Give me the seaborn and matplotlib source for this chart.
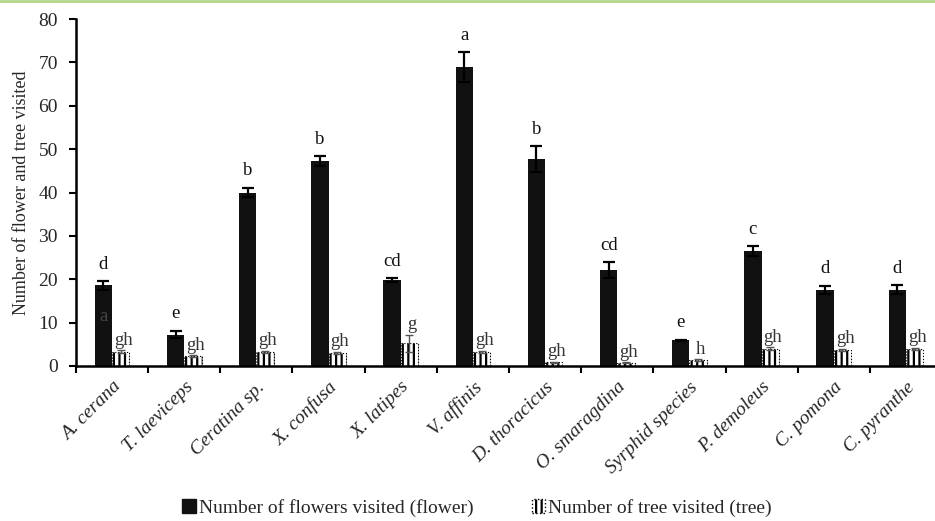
import numpy as np
import pandas as pd
import seaborn as sns
import matplotlib as mpl
mpl.use('Agg')
import matplotlib.pyplot as plt
from matplotlib.lines import Line2D
from matplotlib.patches import Patch


species = ["A. cerana", "T. laeviceps", "Ceratina sp.", "X. confusa", "X. latipes",
           "V. affinis", "D. thoracicus", "O. smaragdina", "Syrphid species",
           "P. demoleus", "C. pomona", "C. pyranthe"]
flower_mean = [18.6, 7.25, 40.0, 47.3, 19.8, 68.9, 47.7, 22.1, 5.9, 26.5, 17.6, 17.6]
flower_err = [1.0, 0.9, 1.1, 1.1, 0.5, 3.4, 3.0, 1.9, 0.2, 1.2, 0.9, 1.0]
tree_mean = [3.3, 2.3, 3.2, 3.0, 5.2, 3.3, 0.9, 0.8, 1.3, 4.0, 3.7, 3.9]
tree_err = [0.3, 0.2, 0.3, 0.3, 2.0, 0.2, 0.1, 0.1, 0.2, 0.3, 0.3, 0.3]
flower_letters = ["d", "e", "b", "b", "cd", "a", "b", "cd", "e", "c", "d", "d"]
tree_letters = ["gh", "gh", "gh", "gh", "g", "gh", "gh", "gh", "h", "gh", "gh", "gh"]
series = ["Number of flowers visited (flower)", "Number of tree visited (tree)"]


def draw():
    sns.set_theme(style="ticks")
    plt.rcParams['font.family'] = ['Liberation Serif', 'DejaVu Serif']
    plt.rcParams['hatch.linewidth'] = 1.6

    df = pd.DataFrame({
        "species": species * 2,
        "value": flower_mean + tree_mean,
        "series": [series[0]] * len(species) + [series[1]] * len(species),
    })

    fig = plt.figure(figsize=(9.35, 5.21), dpi=100)
    ax = fig.add_axes([76 / 935, 1 - 366 / 521, 866 / 935, 347 / 521])
    sns.barplot(data=df, x="species", y="value", hue="series", order=species,
                hue_order=series, palette=["#111111", "white"], width=0.48,
                errorbar=None, legend=False, ax=ax, saturation=1)

    n = len(species)
    flower_bars = ax.patches[:n]
    tree_bars = ax.patches[n:2 * n]
    for b in flower_bars:
        b.set_edgecolor("#111111")
        b.set_linewidth(0)
    for b in tree_bars:
        b.set_facecolor("white")
        b.set_edgecolor("black")
        b.set_hatch("|||")
        b.set_linewidth(0.8)
        b.set_linestyle(":")

    fx = [b.get_x() + b.get_width() / 2 for b in flower_bars]
    tx = [b.get_x() + b.get_width() / 2 for b in tree_bars]
    ax.errorbar(fx, flower_mean, yerr=flower_err, fmt="none", ecolor="black",
                elinewidth=1.6, capsize=4, capthick=1.6)
    ax.errorbar(tx, tree_mean, yerr=tree_err, fmt="none", ecolor="#555555",
                elinewidth=1.0, capsize=3, capthick=1.0)

    for x, m, e, lab in zip(fx, flower_mean, flower_err, flower_letters):
        ax.annotate(lab, (x, m + e), xytext=(0, 6), textcoords="offset points",
                    ha="center", va="bottom", fontsize=13.5, color="#111111")
    for x, m, e, lab in zip(tx, tree_mean, tree_err, tree_letters):
        ax.annotate(lab, (x, m + e), xytext=(2, 1), textcoords="offset points",
                    ha="center", va="bottom", fontsize=13.5, color="#333333")
    # stray letter inside the first bar
    ax.text(fx[0], 11.3, "a", ha="center", va="center", fontsize=13.5, color="#474747")

    ax.set_ylim(0, 80)
    ax.set_xlim(-0.5, n - 0.5)
    ax.set_yticks(np.arange(0, 81, 10))
    ax.set_xticks(range(n))
    ax.set_xticklabels(species, rotation=45, ha="right", rotation_mode="anchor",
                       fontstyle="italic", fontsize=14)
    ax.set_xticks(np.arange(-0.5, n, 1), minor=True)
    ax.tick_params(axis="x", which="major", length=0, pad=9)
    ax.tick_params(axis="x", which="minor", length=5, width=1.5, color="black")
    ax.tick_params(axis="y", length=5, width=1.5, color="black", labelsize=14, pad=8)
    ax.set_xlabel("")
    ax.set_ylabel("Number of flower and tree visited", fontsize=13, labelpad=6)
    sns.despine(ax=ax)
    ax.spines["left"].set_linewidth(1.8)
    ax.spines["bottom"].set_linewidth(1.8)
    ax.spines["left"].set_color("black")
    ax.spines["bottom"].set_color("black")

    handles = [Patch(facecolor="#111111", edgecolor="#111111"),
               Patch(facecolor="white", edgecolor="black", hatch="|||", linestyle=":")]
    fig.legend(handles, series, loc="center", bbox_to_anchor=(0.51, 0.025), ncol=2,
               frameon=False, fontsize=14, handlelength=0.7, handleheight=0.7,
               handletextpad=0.15, columnspacing=3.0)

    fig.add_artist(Line2D([0, 1], [0.998, 0.998], color="#b5d38a", linewidth=2,
                          transform=fig.transFigure))

    fig.savefig("out.png", dpi=100)


if __name__ == '__main__':
    draw()
